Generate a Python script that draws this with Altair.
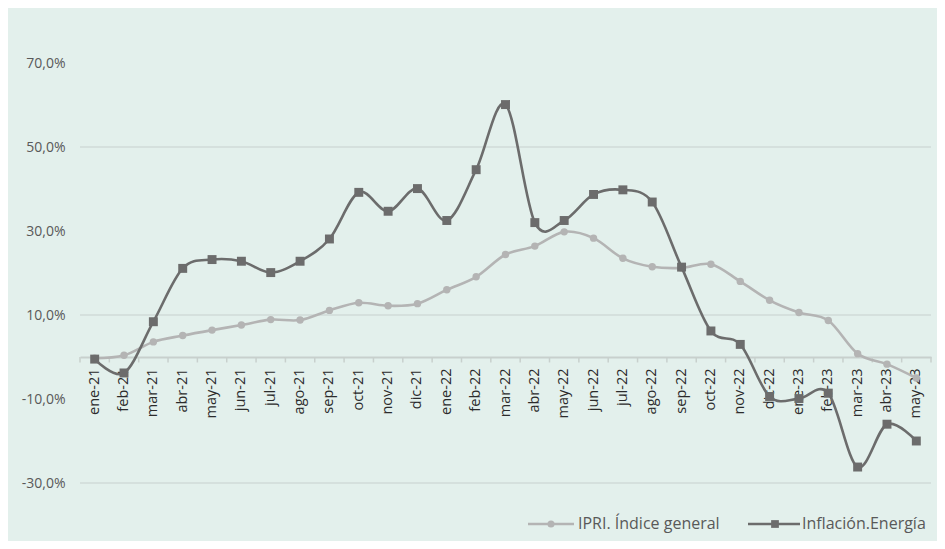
import altair as alt
import pandas as pd

months = ["ene-21", "feb-21", "mar-21", "abr-21", "may-21", "jun-21", "jul-21", "ago-21",
          "sep-21", "oct-21", "nov-21", "dic-21", "ene-22", "feb-22", "mar-22", "abr-22",
          "may-22", "jun-22", "jul-22", "ago-22", "sep-22", "oct-22", "nov-22", "dic-22",
          "ene-23", "feb-23", "mar-23", "abr-23", "may-23"]

ipri = [-0.3, 0.4, 3.6, 5.1, 6.4, 7.6, 8.9, 8.8,
        11.1, 12.9, 12.2, 12.7, 16.0, 19.1, 24.4, 26.4,
        29.8, 28.3, 23.5, 21.5, 21.2, 22.1, 18.0, 13.5,
        10.6, 8.7, 0.8, -1.7, -5.0]

energia = [-0.5, -3.8, 8.4, 21.1, 23.2, 22.8, 20.1, 22.8,
           28.1, 39.2, 34.7, 40.1, 32.5, 44.6, 60.1, 32.0,
           32.5, 38.7, 39.8, 36.9, 21.4, 6.2, 3.0, -9.4,
           -9.9, -8.6, -26.2, -16.0, -20.0]

series_names = ["IPRI. Índice general", "Inflación.Energía"]
y_ticks = [-30, -10, 10, 30, 50, 70]
grid_values = [-30, 10, 50]

FONT = "Open Sans"
C_IPRI = "#b4b4b4"
C_EN = "#6c6c6c"
AXIS_C = "#c8d0cd"

W, H = 851, 504

df_ipri = pd.DataFrame({"mes": months, "valor": ipri})
df_en = pd.DataFrame({"mes": months, "valor": energia})
df_grid = pd.DataFrame({"g": grid_values})
df_m = pd.DataFrame({"mes": months})

xscale = alt.Scale(domain=months, type="band", paddingInner=0, paddingOuter=0)
yscale = alt.Scale(domain=[-40, 80], nice=False, zero=False)

x_axis = alt.Axis(title=None, labelAngle=-90, offset=-168, ticks=False,
                  domainColor=AXIS_C, domainWidth=2, labelPadding=11,
                  labelFont=FONT, labelFontSize=14.5, labelColor="#2b2b2b")
y_axis = alt.Axis(title=None, values=y_ticks, grid=False, domain=False, ticks=False,
                  labelPadding=15, labelFont=FONT, labelFontSize=14,
                  labelColor="#595959",
                  labelExpr="toString(datum.value) + ',0%'")


def X(bp=0.5):
    return alt.X("mes:N", scale=xscale, sort=months, bandPosition=bp, axis=x_axis)


def Y(field="valor:Q"):
    return alt.Y(field, scale=yscale, axis=y_axis)


grid = alt.Chart(df_grid).mark_rule(color=AXIS_C, strokeWidth=1.2).encode(
    y=Y("g:Q"), x=alt.value(0), x2=alt.value(W))

ticks = alt.Chart(df_m).mark_rule(color=AXIS_C, strokeWidth=1.5).encode(
    x=X(0), y=alt.Y(datum=0, scale=yscale, axis=y_axis), y2=alt.Y2(datum=-1.3))
tick_end = alt.Chart(df_m.head(1)).mark_rule(color=AXIS_C, strokeWidth=1.5).encode(
    x=alt.value(W), y=alt.Y(datum=0, scale=yscale, axis=y_axis), y2=alt.Y2(datum=-1.3))

line_ipri = alt.Chart(df_ipri).mark_line(color=C_IPRI, strokeWidth=2.6, interpolate="cardinal").encode(
    x=X(), y=Y())
pt_ipri = alt.Chart(df_ipri).mark_point(shape="circle", filled=True, color=C_IPRI, size=55, opacity=1).encode(
    x=X(), y=Y())

line_en = alt.Chart(df_en).mark_line(color=C_EN, strokeWidth=2.6, interpolate="cardinal").encode(
    x=X(), y=Y())
pt_en = alt.Chart(df_en).mark_point(shape="square", filled=True, color=C_EN, size=80, opacity=1).encode(
    x=X(), y=Y())

# legend
LY = 503
one = pd.DataFrame({"k": [0]})
leg = [
    alt.Chart(one).mark_rule(color=C_IPRI, strokeWidth=2.6).encode(
        x=alt.value(448), x2=alt.value(494), y=alt.value(LY)),
    alt.Chart(one).mark_point(shape="circle", filled=True, color=C_IPRI, size=50, opacity=1).encode(
        x=alt.value(471), y=alt.value(LY)),
    alt.Chart(one).mark_text(text=series_names[0], align="left", baseline="middle", font=FONT,
                             fontSize=16, color="#595959").encode(x=alt.value(498), y=alt.value(LY)),
    alt.Chart(one).mark_rule(color=C_EN, strokeWidth=2.6).encode(
        x=alt.value(668), x2=alt.value(720), y=alt.value(LY)),
    alt.Chart(one).mark_point(shape="square", filled=True, color=C_EN, size=60, opacity=1).encode(
        x=alt.value(695), y=alt.value(LY)),
    alt.Chart(one).mark_text(text=series_names[1], align="left", baseline="middle", font=FONT,
                             fontSize=16, color="#595959").encode(x=alt.value(722), y=alt.value(LY)),
]

chart = alt.layer(grid, ticks, tick_end, line_ipri, pt_ipri, line_en, pt_en, *leg).properties(
    width=W, height=H,
    background="#e3f0ec",
    padding={"left": 72, "top": 13, "right": 6, "bottom": 16},
    autosize=alt.AutoSizeParams(type="none"),
).configure_view(stroke=None)

chart.save("out.html", embed_options={"renderer": "svg", "actions": False})
